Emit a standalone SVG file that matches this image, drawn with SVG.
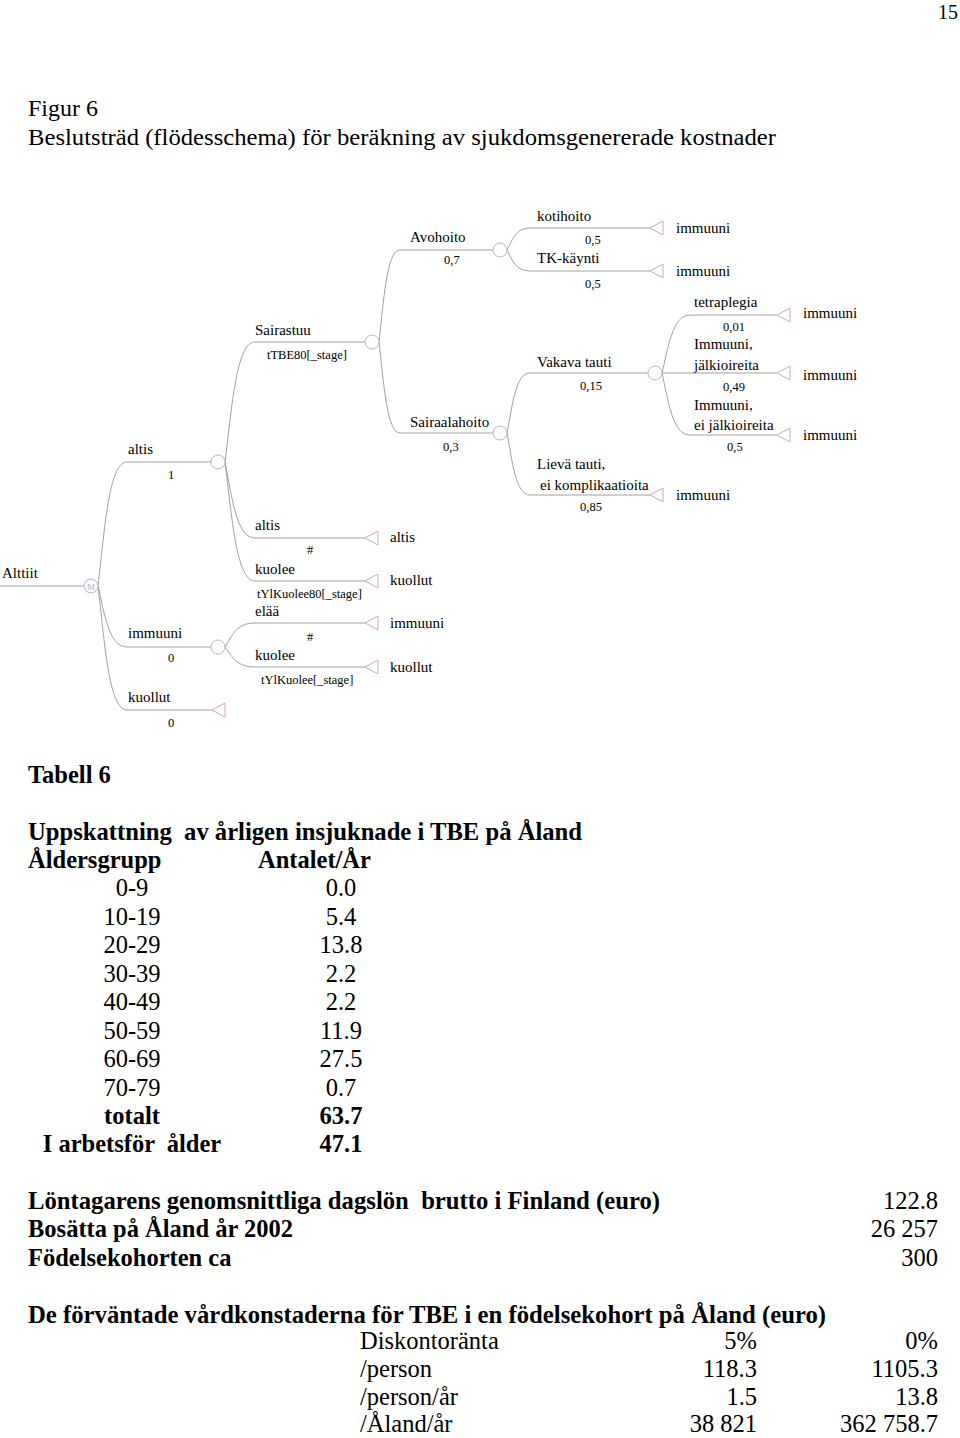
<svg xmlns="http://www.w3.org/2000/svg" xmlns:xlink="http://www.w3.org/1999/xlink" width="960" height="1438" viewBox="0 0 960 1438">
<style>
.t{font-family:"Liberation Serif","Times New Roman",serif;fill:#000}
.lb{font-size:15px}
.sm{font-size:12.5px}
.hd{font-size:24px}
.tb{font-size:24.5px}
.b{font-weight:bold}
.ln{fill:none;stroke:#a0a0a0;stroke-width:1}
.ch{fill:#fff;stroke:#a9c0a9;stroke-width:1}
.tr{fill:#fff;stroke:#d8a6a6;stroke-width:1}
.mk{fill:#fff;stroke:#c2a3cf;stroke-width:1}
</style>
<defs>
<path id="tri" d="M0,0 L13,-7 L13,7 Z"/>
</defs>
<rect width="960" height="1438" fill="#fff"/>

<g id="header">
<text class="t" x="958" y="19" font-size="20" text-anchor="end">15</text>
<text class="t hd" x="28" y="116" textLength="70" lengthAdjust="spacingAndGlyphs">Figur 6</text>
<text class="t hd" x="28" y="145" textLength="748" lengthAdjust="spacingAndGlyphs">Beslutsträd (flödesschema) för beräkning av sjukdomsgenererade kostnader</text>
</g>

<g id="connectors">
<path class="ln" d="M0,586 H84"/>
<path class="ln" d="M98,586 C104.7,530 108.7,462 127,462 H211"/>
<path class="ln" d="M98,586 C104.7,614 108.7,647 127,647 H211"/>
<path class="ln" d="M98,586 C104.7,642 108.7,710 127,710 H212"/>
<path class="ln" d="M225,462 C231.9,408 236.1,342 255,342 H365"/>
<path class="ln" d="M225,462 C231.9,496 236.1,538 255,538 H365"/>
<path class="ln" d="M225,462 C231.9,516 236.1,581 255,581 H365"/>
<path class="ln" d="M225,647 C231.9,636 236.1,623 255,623 H365"/>
<path class="ln" d="M225,647 C231.9,656 236.1,667 255,667 H365"/>
<path class="ln" d="M379,342 C383.8,300 386.8,250 400,250 H493"/>
<path class="ln" d="M379,342 C383.8,383 386.8,433 400,433 H493"/>
<path class="ln" d="M507,250 C512.3,240 515.5,228 530,228 H650"/>
<path class="ln" d="M507,250 C512.3,260 515.5,271 530,271 H650"/>
<path class="ln" d="M507,433 C512.3,406 515.5,373 530,373 H648"/>
<path class="ln" d="M507,433 C512.3,461 515.5,495 530,495 H650"/>
<path class="ln" d="M662,373 C668.4,347 672.4,315 690,315 H777"/>
<path class="ln" d="M662,373 H777"/>
<path class="ln" d="M662,373 C668.4,401 672.4,435 690,435 H777"/>
</g>

<g id="root">
<text class="t lb" x="2" y="578">Alttiit</text>
</g>
<g id="markov">
<circle class="mk" cx="91" cy="586" r="7"/>
<text class="t" x="91" y="589.5" font-size="9" text-anchor="middle" style="fill:#c2a3cf">M</text>
</g>

<g id="b-altis">
<text class="t lb" x="128" y="454">altis</text>
<text class="t sm" x="168" y="479">1</text>
<circle class="ch" cx="218" cy="462" r="7"/>
</g>
<g id="b-immuuni">
<text class="t lb" x="128" y="638">immuuni</text>
<text class="t sm" x="168" y="662">0</text>
<circle class="ch" cx="218" cy="647" r="7"/>
</g>
<g id="b-kuollut">
<text class="t lb" x="128" y="702">kuollut</text>
<text class="t sm" x="168" y="727">0</text>
<use xlink:href="#tri" href="#tri" x="212" y="710" class="tr"/>
</g>

<g id="n-sairastuu">
<text class="t lb" x="255" y="335">Sairastuu</text>
<text class="t sm" x="267" y="359">tTBE80[_stage]</text>
<circle class="ch" cx="372" cy="342" r="7"/>
</g>
<g id="n-altis2">
<text class="t lb" x="255" y="530">altis</text>
<text class="t sm" x="310" y="554" text-anchor="middle">#</text>
<use xlink:href="#tri" href="#tri" x="365" y="538" class="tr"/>
<text class="t lb" x="390" y="542">altis</text>
</g>
<g id="n-kuolee1">
<text class="t lb" x="255" y="574">kuolee</text>
<text class="t sm" x="257" y="598">tYlKuolee80[_stage]</text>
<use xlink:href="#tri" href="#tri" x="365" y="581" class="tr"/>
<text class="t lb" x="390" y="585">kuollut</text>
</g>
<g id="n-elaa">
<text class="t lb" x="255" y="616">elää</text>
<text class="t sm" x="310" y="641" text-anchor="middle">#</text>
<use xlink:href="#tri" href="#tri" x="365" y="623" class="tr"/>
<text class="t lb" x="390" y="628">immuuni</text>
</g>
<g id="n-kuolee2">
<text class="t lb" x="255" y="660">kuolee</text>
<text class="t sm" x="261" y="684">tYlKuolee[_stage]</text>
<use xlink:href="#tri" href="#tri" x="365" y="667" class="tr"/>
<text class="t lb" x="390" y="672">kuollut</text>
</g>

<g id="n-avohoito">
<text class="t lb" x="410" y="242">Avohoito</text>
<text class="t sm" x="444" y="264">0,7</text>
<circle class="ch" cx="500" cy="250" r="7"/>
</g>
<g id="n-sairaala">
<text class="t lb" x="410" y="427">Sairaalahoito</text>
<text class="t sm" x="443" y="451">0,3</text>
<circle class="ch" cx="500" cy="433" r="7"/>
</g>

<g id="n-kotihoito">
<text class="t lb" x="537" y="221">kotihoito</text>
<text class="t sm" x="585" y="244">0,5</text>
<use xlink:href="#tri" href="#tri" x="650" y="228" class="tr"/>
<text class="t lb" x="676" y="233">immuuni</text>
</g>
<g id="n-tk">
<text class="t lb" x="537" y="263">TK-käynti</text>
<text class="t sm" x="585" y="288">0,5</text>
<use xlink:href="#tri" href="#tri" x="650" y="271" class="tr"/>
<text class="t lb" x="676" y="276">immuuni</text>
</g>
<g id="n-vakava">
<text class="t lb" x="537" y="367">Vakava tauti</text>
<text class="t sm" x="580" y="390">0,15</text>
<circle class="ch" cx="655" cy="373" r="7"/>
</g>
<g id="n-lieva">
<text class="t lb" x="537" y="469">Lievä tauti,</text>
<text class="t lb" x="540" y="490">ei komplikaatioita</text>
<text class="t sm" x="580" y="511">0,85</text>
<use xlink:href="#tri" href="#tri" x="650" y="495" class="tr"/>
<text class="t lb" x="676" y="500">immuuni</text>
</g>

<g id="n-tetra">
<text class="t lb" x="694" y="307">tetraplegia</text>
<text class="t sm" x="723" y="331">0,01</text>
<use xlink:href="#tri" href="#tri" x="777" y="315" class="tr"/>
<text class="t lb" x="803" y="318">immuuni</text>
</g>
<g id="n-jalk">
<text class="t lb" x="694" y="349">Immuuni,</text>
<text class="t lb" x="694" y="370">jälkioireita</text>
<text class="t sm" x="723" y="391">0,49</text>
<use xlink:href="#tri" href="#tri" x="777" y="373" class="tr"/>
<text class="t lb" x="803" y="380">immuuni</text>
</g>
<g id="n-eijalk">
<text class="t lb" x="694" y="410">Immuuni,</text>
<text class="t lb" x="694" y="430">ei jälkioireita</text>
<text class="t sm" x="727" y="451">0,5</text>
<use xlink:href="#tri" href="#tri" x="777" y="435" class="tr"/>
<text class="t lb" x="803" y="440">immuuni</text>
</g>

<g id="table">
<text class="t tb b" x="28" y="783">Tabell 6</text>
<text class="t tb b" x="28" y="840" xml:space="preserve" textLength="554" lengthAdjust="spacingAndGlyphs">Uppskattning  av årligen insjuknade i TBE på Åland</text>
<text class="t tb b" x="28" y="868">Åldersgrupp</text>
<text class="t tb b" x="258" y="868">Antalet/År</text>
<g text-anchor="middle">
<text class="t tb" x="132" y="896">0-9</text><text class="t tb" x="341" y="896">0.0</text>
<text class="t tb" x="132" y="925">10-19</text><text class="t tb" x="341" y="925">5.4</text>
<text class="t tb" x="132" y="953">20-29</text><text class="t tb" x="341" y="953">13.8</text>
<text class="t tb" x="132" y="982">30-39</text><text class="t tb" x="341" y="982">2.2</text>
<text class="t tb" x="132" y="1010">40-49</text><text class="t tb" x="341" y="1010">2.2</text>
<text class="t tb" x="132" y="1039">50-59</text><text class="t tb" x="341" y="1039">11.9</text>
<text class="t tb" x="132" y="1067">60-69</text><text class="t tb" x="341" y="1067">27.5</text>
<text class="t tb" x="132" y="1096">70-79</text><text class="t tb" x="341" y="1096">0.7</text>
<text class="t tb b" x="132" y="1124">totalt</text><text class="t tb b" x="341" y="1124">63.7</text>
<text class="t tb b" x="132" y="1152" xml:space="preserve">I arbetsför  ålder</text><text class="t tb b" x="341" y="1152">47.1</text>
</g>
<text class="t tb b" x="28" y="1209" xml:space="preserve" textLength="632" lengthAdjust="spacingAndGlyphs">Löntagarens genomsnittliga dagslön  brutto i Finland (euro)</text>
<text class="t tb" x="938" y="1209" text-anchor="end">122.8</text>
<text class="t tb b" x="28" y="1237">Bosätta på Åland år 2002</text>
<text class="t tb" x="938" y="1237" text-anchor="end">26 257</text>
<text class="t tb b" x="28" y="1266">Födelsekohorten ca</text>
<text class="t tb" x="938" y="1266" text-anchor="end">300</text>
<text class="t tb b" x="28" y="1323" textLength="798" lengthAdjust="spacingAndGlyphs">De förväntade vårdkonstaderna för TBE i en födelsekohort på Åland (euro)</text>
<text class="t tb" x="360" y="1349">Diskontoränta</text>
<text class="t tb" x="757" y="1349" text-anchor="end">5%</text>
<text class="t tb" x="938" y="1349" text-anchor="end">0%</text>
<text class="t tb" x="360" y="1377">/person</text>
<text class="t tb" x="757" y="1377" text-anchor="end">118.3</text>
<text class="t tb" x="938" y="1377" text-anchor="end">1105.3</text>
<text class="t tb" x="360" y="1405">/person/år</text>
<text class="t tb" x="757" y="1405" text-anchor="end">1.5</text>
<text class="t tb" x="938" y="1405" text-anchor="end">13.8</text>
<text class="t tb" x="360" y="1432">/Åland/år</text>
<text class="t tb" x="757" y="1432" text-anchor="end">38 821</text>
<text class="t tb" x="938" y="1432" text-anchor="end">362 758.7</text>
</g>
</svg>
